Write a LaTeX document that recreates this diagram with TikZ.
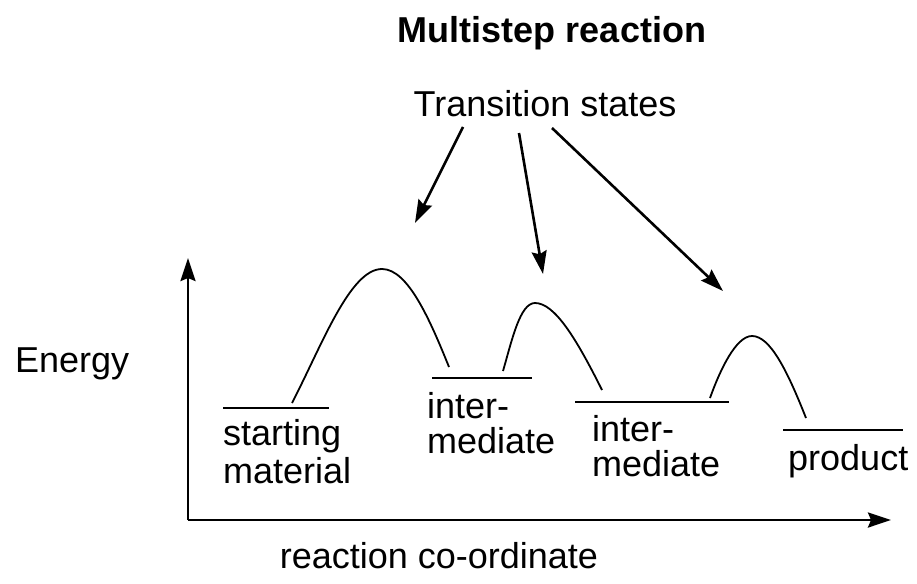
\documentclass[tikz,border=0pt]{standalone}
\usepackage{fontspec}
\setmainfont{Liberation Sans}
\usetikzlibrary{arrows.meta}
\tikzset{
  txt/.style={inner sep=0pt,font=\fontsize{36}{38}\selectfont},
  lbl/.style={txt,align=left,anchor=north west},
  level/.style={line width=2.4pt},
  hump/.style={line width=1.8pt},
  axis/.style={line width=2.8pt,-{Stealth[length=23pt,width=15pt,inset=3pt]}},
  pointer/.style={line width=2.6pt,-{Stealth[length=23pt,width=15pt,inset=3pt]}}
}

\begin{document}
\begin{tikzpicture}[x=1pt,y=-1pt]
    \useasboundingbox (0,0) rectangle (917,583);
    \node [txt,font=\bfseries\fontsize{36}{38}\selectfont,anchor=base] (title) at (552,43) {Multistep reaction};
    \node [txt,anchor=base] (ts) at (545,117) {Transition states};

    % axes
    \coordinate (O) at (188,520);
    \coordinate (ytop) at (188,258);
    \coordinate (xend) at (891,520);
    \draw [axis] (O) -- (ytop);
    \draw [axis] (O) -- (xend);
    \node [txt,anchor=base west] (energy) at (15,372) {Energy};
    \node [txt,anchor=base] (rc) at (439,568) {reaction co-ordinate};

    % levels
    \coordinate (sm1) at (223,408);  \coordinate (sm2) at (329,408);
    \coordinate (ia1) at (432,378);  \coordinate (ia2) at (532,378);
    \coordinate (ib1) at (575,402);  \coordinate (ib2) at (729,402);
    \coordinate (pr1) at (783,430);  \coordinate (pr2) at (903,430);
    \draw [level] (sm1) -- (sm2);
    \draw [level] (ia1) -- (ia2);
    \draw [level] (ib1) -- (ib2);
    \draw [level] (pr1) -- (pr2);

    \node [lbl] (smtext) at (223,419) {starting\\material};
    \node [lbl,font=\fontsize{36}{35}\selectfont] (iatext) at (427,392) {inter-\\mediate};
    \node [lbl,font=\fontsize{36}{35}\selectfont] (ibtext) at (592,415) {inter-\\mediate};
    \node [lbl] (prtext) at (788,444) {product};

    % transition states
    \coordinate (ts1) at (382,269);
    \coordinate (ts2) at (535,303);
    \coordinate (ts3) at (752,336);
    \draw [hump] (292,403) .. controls (322,345) and (350,269) .. (ts1)
                           .. controls (408,269) and (430,320) .. (449,367);
    \draw [hump] (503,371) .. controls (512,340) and (520,303) .. (ts2)
                           .. controls (555,303) and (577,340) .. (602,390);
    \draw [hump] (710,398) .. controls (720,370) and (736,336) .. (ts3)
                           .. controls (770,336) and (787,370) .. (806,418);

    % pointers
    \coordinate (p1) at (415,223);
    \coordinate (p2) at (543,274);
    \coordinate (p3) at (723,291);
    \draw [pointer] (463,127) -- (p1);
    \draw [pointer] (519,133) -- (p2);
    \draw [pointer] (552,128) -- (p3);
\end{tikzpicture}
\end{document}
